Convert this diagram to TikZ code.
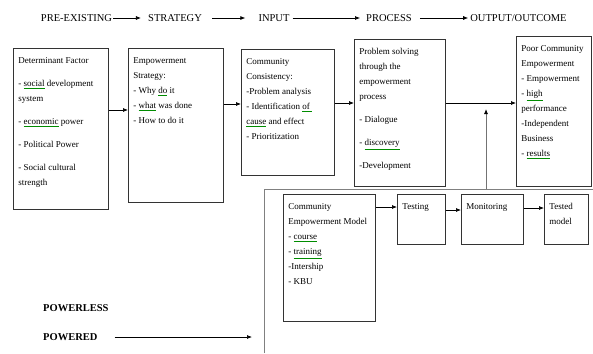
\documentclass[tikz,border=0pt]{standalone}
\usepackage{fontspec}
\setmainfont{Liberation Serif}
\usetikzlibrary{arrows.meta}

% green spell-check underline
\newcommand{\grn}[1]{{\color{green!55!black}\underline{\color{black}#1}}}
% top-aligned box body: width, height, text
\newcommand{\cell}[3]{\parbox[t][#2][t]{#1}{\raggedright #3}}

\begin{document}
\begin{tikzpicture}[x=1pt, y=-1pt, >={Latex[length=5pt,width=4pt]},
    head/.style={font=\fontsize{10.5}{12}\selectfont, inner sep=1pt},
    box/.style={draw=black!80, line width=0.9pt, anchor=north west,
                inner xsep=5pt, inner ysep=9pt, font=\fontsize{9}{15}\selectfont},
    link/.style={->, line width=0.7pt},
    bus/.style={draw=black!50, line width=1pt},
    level/.style={font=\bfseries\fontsize{10.5}{12}\selectfont, anchor=west, inner sep=1pt}]

    \useasboundingbox (0,0) rectangle (593,353);

    % --- header row ---
    \node[head] (pre) at (76.5,18) {PRE-EXISTING};
    \node[head] (str) at (175,18)  {STRATEGY};
    \node[head] (inp) at (274,18)  {INPUT};
    \node[head] (prc) at (389,18)  {PROCESS};
    \node[head] (out) at (518.5,18) {OUTPUT/OUTCOME};

    \draw[link, shorten >=6pt] (pre) -- (str);
    \draw[link, shorten <=9pt, shorten >=12pt] (str) -- (inp);
    \draw[link, shorten <=2pt, shorten >=5pt] (inp) -- (prc);
    \draw[link, shorten <=7pt, shorten >=1pt] (prc) -- (out);

    % --- upper boxes ---
    \node[box] (det) at (13,48) {\cell{85pt}{143pt}{%
        Determinant Factor\\[8pt]
        - \grn{social} development\\system\\[8pt]
        - \grn{economic} power\\[8pt]
        - Political Power\\[8pt]
        - Social cultural\\strength}};
    \node[box] (strat) at (128,48) {\cell{85pt}{136pt}{%
        Empowerment\\Strategy:\\
        - Why \grn{do} it\\
        - \grn{what} was done\\
        - How to do it}};
    \node[box] (cons) at (241,49) {\cell{83pt}{108pt}{%
        Community\\Consistency:\\
        -Problem analysis\\
        - Identification \grn{of\ }\\
        \grn{cause} and effect\\
        - Prioritization}};
    \node[box] (proc) at (354,39) {\cell{81pt}{129pt}{%
        Problem solving\\through the\\empowerment\\process\\[8pt]
        - Dialogue\\[8pt]
        - \grn{discovery}\\[8pt]
        -Development}};
    \node[box] (outc) at (516,36) {\cell{65pt}{132pt}{%
        Poor Community\\Empowerment\\
        - Empowerment\\
        - \grn{high}\\performance\\
        -Independent\\Business\\
        - \grn{results}}};

    \coordinate (r1) at (0,110);
    \coordinate (r2) at (0,104);
    \coordinate (r3) at (0,103);
    \draw[link] (det.east |- r1) -- (strat.west |- r1);
    \draw[link] (strat.east |- r2) -- (cons.west |- r2);
    \draw[link] (cons.east |- r3) -- (proc.west |- r3);
    \draw[link] (proc.east |- r3) -- (outc.west |- r3);

    % --- lower frame ---
    \coordinate (busS) at (264,353);
    \coordinate (busE) at (593,189);
    \draw[bus] (busS) |- (busE);

    \coordinate (upA) at (486,189);
    \coordinate (upB) at (486,109);
    \draw[line width=0.8pt, draw=black!55, -{Latex[length=5pt,width=4pt,color=black]}] (upA) -- (upB);

    % --- lower boxes ---
    \node[box] (model) at (283,194) {\cell{82pt}{109pt}{%
        Community\\Empowerment Model\\
        - \grn{course}\\
        - \grn{training}\\
        -Intership\\
        - KBU}};
    \node[box] (test)   at (397,194) {\cell{38pt}{32pt}{Testing}};
    \node[box] (monit)  at (461,194) {\cell{52pt}{32pt}{Monitoring}};
    \node[box] (tested) at (544,194) {\cell{34pt}{32pt}{Tested\\model}};

    \coordinate (r4) at (0,207);
    \coordinate (r5) at (0,210);
    \coordinate (r6) at (0,208);
    \draw[link] (model.east |- r4) -- (test.west |- r4);
    \draw[link] (test.east |- r5) -- (monit.west |- r5);
    \draw[link] (monit.east |- r6) -- (tested.west |- r6);

    % --- power levels ---
    \node[level] (pwl) at (42,308) {POWERLESS};
    \node[level] (pwd) at (42,337) {POWERED};
    \coordinate (pend) at (252,337);
    \draw[link, shorten <=16pt] (pwd) -- (pend);
\end{tikzpicture}
\end{document}
